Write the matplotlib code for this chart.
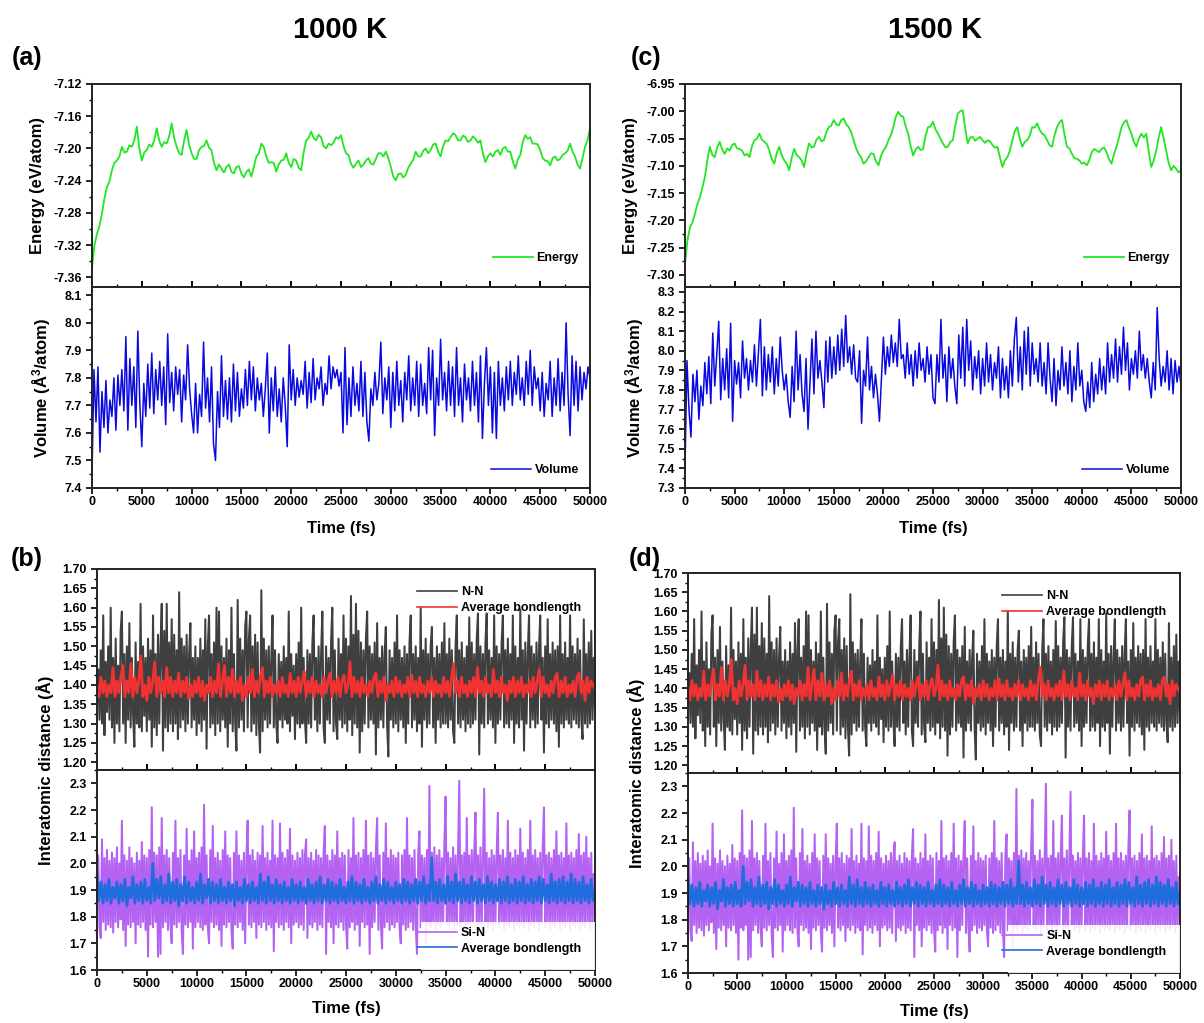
import numpy as np
import matplotlib
matplotlib.use("Agg")
import matplotlib.pyplot as plt
from matplotlib.ticker import MultipleLocator, FormatStrFormatter
from matplotlib.patches import Rectangle

# ---------------- data ----------------
T_END = 50000  # fs

energy_1000 = [
    -7.348, -7.320, -7.306, -7.296, -7.281, -7.262, -7.248, -7.241, -7.227, -7.218,
    -7.215, -7.210, -7.198, -7.205, -7.204, -7.196, -7.198, -7.190, -7.173, -7.200,
    -7.215, -7.205, -7.202, -7.195, -7.198, -7.190, -7.175, -7.190, -7.198, -7.192,
    -7.194, -7.185, -7.169, -7.187, -7.198, -7.206, -7.208, -7.190, -7.177, -7.195,
    -7.206, -7.213, -7.213, -7.202, -7.198, -7.197, -7.190, -7.199, -7.202, -7.218,
    -7.227, -7.220, -7.225, -7.230, -7.223, -7.220, -7.229, -7.231, -7.223, -7.222,
    -7.231, -7.236, -7.229, -7.226, -7.235, -7.223, -7.210, -7.206, -7.194, -7.198,
    -7.210, -7.218, -7.217, -7.218, -7.229, -7.220, -7.215, -7.214, -7.206, -7.218,
    -7.223, -7.213, -7.215, -7.224, -7.227, -7.205, -7.190, -7.187, -7.179, -7.187,
    -7.190, -7.183, -7.186, -7.197, -7.200, -7.194, -7.196, -7.193, -7.186, -7.188,
    -7.1835, -7.197, -7.206, -7.208, -7.219, -7.224, -7.219, -7.215, -7.223, -7.220,
    -7.215, -7.212, -7.219, -7.220, -7.213, -7.206, -7.206, -7.210, -7.204, -7.212,
    -7.223, -7.235, -7.2395, -7.232, -7.231, -7.236, -7.233, -7.224, -7.219, -7.214,
    -7.204, -7.210, -7.210, -7.203, -7.200, -7.206, -7.202, -7.195, -7.194, -7.204,
    -7.210, -7.197, -7.190, -7.191, -7.186, -7.181, -7.1835, -7.190, -7.190, -7.184,
    -7.186, -7.192, -7.190, -7.185, -7.188, -7.193, -7.190, -7.206, -7.217, -7.210,
    -7.206, -7.210, -7.204, -7.202, -7.208, -7.200, -7.198, -7.204, -7.204, -7.216,
    -7.225, -7.214, -7.208, -7.192, -7.1835, -7.188, -7.186, -7.194, -7.194, -7.195,
    -7.202, -7.212, -7.215, -7.216, -7.221, -7.212, -7.210, -7.215, -7.213, -7.208,
    -7.206, -7.203, -7.194, -7.204, -7.210, -7.220, -7.225, -7.212, -7.198, -7.190,
    -7.175]

energy_1500 = [
    -7.280, -7.236, -7.213, -7.204, -7.188, -7.170, -7.158, -7.140, -7.121, -7.090,
    -7.065, -7.080, -7.084, -7.066, -7.056, -7.070, -7.078, -7.068, -7.072, -7.062,
    -7.059, -7.068, -7.069, -7.072, -7.081, -7.078, -7.084, -7.064, -7.053, -7.050,
    -7.041, -7.052, -7.056, -7.060, -7.072, -7.088, -7.096, -7.076, -7.065, -7.080,
    -7.090, -7.096, -7.108, -7.086, -7.069, -7.080, -7.084, -7.090, -7.102, -7.078,
    -7.059, -7.066, -7.065, -7.052, -7.047, -7.055, -7.053, -7.038, -7.029, -7.026,
    -7.016, -7.024, -7.026, -7.016, -7.013, -7.024, -7.029, -7.038, -7.053, -7.068,
    -7.078, -7.084, -7.096, -7.092, -7.084, -7.077, -7.078, -7.092, -7.099, -7.082,
    -7.072, -7.066, -7.053, -7.044, -7.029, -7.010, -7.001, -7.008, -7.010, -7.028,
    -7.041, -7.064, -7.081, -7.070, -7.065, -7.071, -7.069, -7.045, -7.029, -7.028,
    -7.019, -7.033, -7.041, -7.050, -7.059, -7.066, -7.065, -7.056, -7.053, -7.026,
    -7.004, -7.000, -6.998, -7.032, -7.059, -7.048, -7.047, -7.054, -7.050, -7.047,
    -7.053, -7.058, -7.053, -7.055, -7.062, -7.067, -7.065, -7.085, -7.102, -7.090,
    -7.084, -7.072, -7.053, -7.036, -7.029, -7.050, -7.065, -7.056, -7.053, -7.045,
    -7.029, -7.030, -7.022, -7.034, -7.041, -7.044, -7.053, -7.062, -7.065, -7.044,
    -7.029, -7.020, -7.016, -7.042, -7.065, -7.068, -7.078, -7.086, -7.087, -7.090,
    -7.096, -7.094, -7.099, -7.090, -7.075, -7.069, -7.072, -7.075, -7.069, -7.066,
    -7.075, -7.088, -7.096, -7.078, -7.065, -7.048, -7.029, -7.020, -7.016, -7.030,
    -7.041, -7.056, -7.065, -7.050, -7.041, -7.048, -7.041, -7.074, -7.102, -7.090,
    -7.072, -7.048, -7.029, -7.050, -7.072, -7.094, -7.108, -7.100, -7.105, -7.112,
    -7.108]

volume_1000 = [
    7.45, 7.83, 7.64, 7.84, 7.53, 7.75, 7.62, 7.79, 7.60, 7.72,
    7.66, 7.80, 7.61, 7.81, 7.70, 7.83, 7.68, 7.95, 7.61, 7.87,
    7.70, 7.84, 7.62, 7.97, 7.71, 7.55, 7.78, 7.66, 7.85, 7.69,
    7.89, 7.67, 7.83, 7.72, 7.86, 7.70, 7.84, 7.63, 7.96, 7.71,
    7.82, 7.68, 7.84, 7.74, 7.83, 7.64, 7.81, 7.72, 7.92, 7.76,
    7.67, 7.60, 7.78, 7.60, 7.74, 7.66, 7.93, 7.69, 7.80, 7.64,
    7.84, 7.56, 7.50, 7.75, 7.62, 7.88, 7.66, 7.79, 7.65, 7.80,
    7.64, 7.85, 7.68, 7.82, 7.66, 7.76, 7.69, 7.83, 7.70, 7.86,
    7.72, 7.84, 7.68, 7.80, 7.72, 7.78, 7.66, 7.76, 7.89, 7.60,
    7.80, 7.68, 7.84, 7.66, 7.76, 7.64, 7.80, 7.70, 7.55, 7.92,
    7.72, 7.83, 7.70, 7.80, 7.73, 7.79, 7.74, 7.86, 7.69, 7.82,
    7.71, 7.87, 7.72, 7.80, 7.76, 7.84, 7.70, 7.78, 7.74, 7.88,
    7.76, 7.84, 7.80, 7.83, 7.77, 7.82, 7.60, 7.91, 7.63, 7.80,
    7.66, 7.84, 7.70, 7.78, 7.68, 7.86, 7.66, 7.82, 7.64, 7.57,
    7.76, 7.70, 7.82, 7.72, 7.78, 7.93, 7.67, 7.80, 7.72, 7.84,
    7.62, 7.82, 7.68, 7.86, 7.70, 7.79, 7.64, 7.82, 7.72, 7.88,
    7.68, 7.80, 7.70, 7.86, 7.66, 7.85, 7.70, 7.78, 7.67, 7.91,
    7.72, 7.90, 7.59, 7.80, 7.70, 7.94, 7.72, 7.82, 7.68, 7.86,
    7.70, 7.84, 7.66, 7.91, 7.70, 7.80, 7.64, 7.85, 7.72, 7.80,
    7.68, 7.86, 7.70, 7.82, 7.64, 7.88, 7.58, 7.78, 7.91, 7.70,
    7.84, 7.60, 7.82, 7.58, 7.86, 7.70, 7.80, 7.68, 7.84, 7.72,
    7.86, 7.70, 7.82, 7.74, 7.88, 7.72, 7.80, 7.70, 7.86, 7.74,
    7.90, 7.70, 7.84, 7.76, 7.80, 7.68, 7.82, 7.66, 7.78, 7.72,
    7.86, 7.66, 7.80, 7.70, 7.87, 7.68, 7.82, 7.70, 8.00, 7.74,
    7.59, 7.88, 7.70, 7.86, 7.68, 7.84, 7.72, 7.82, 7.76, 7.84,
    7.80]

volume_1500 = [
    7.40, 7.95, 7.70, 7.56, 7.88, 7.74, 7.90, 7.65, 7.82, 7.72,
    7.94, 7.78, 7.97, 7.73, 8.09, 7.82, 7.98, 8.15, 7.75, 7.96,
    7.80, 8.01, 7.76, 8.14, 7.64, 7.95, 7.83, 7.94, 7.76, 8.05,
    7.86, 7.96, 7.80, 7.95, 7.84, 8.03, 7.82, 7.99, 8.16, 7.77,
    8.02, 7.80, 7.98, 7.84, 8.02, 7.78, 7.96, 7.82, 8.07, 7.90,
    7.80, 7.88, 7.74, 7.66, 7.92, 7.74, 8.10, 7.80, 7.98, 7.78,
    7.69, 7.96, 7.60, 7.84, 8.06, 7.78, 8.10, 7.86, 7.95, 7.84,
    7.71, 8.05, 7.84, 8.07, 7.86, 8.02, 7.88, 8.08, 7.90, 8.11,
    7.92, 8.18, 7.94, 8.02, 7.88, 8.03, 7.86, 7.84, 8.00, 7.63,
    7.90, 7.82, 8.07, 7.80, 7.92, 7.76, 7.88, 7.78, 7.64, 7.85,
    8.07, 7.88, 8.02, 7.92, 8.08, 7.94, 8.04, 7.92, 8.16, 7.96,
    7.98, 7.86, 8.04, 7.88, 7.98, 7.82, 8.00, 7.86, 8.04, 7.90,
    7.96, 7.84, 8.02, 7.88, 7.98, 7.76, 7.73, 7.98, 7.84, 8.16,
    7.86, 7.98, 7.74, 8.02, 7.86, 7.96, 7.82, 7.73, 8.08, 7.86,
    8.12, 7.82, 8.16, 7.90, 8.05, 7.80, 7.97, 7.86, 8.00, 7.78,
    7.96, 7.82, 8.04, 7.84, 7.98, 7.80, 7.94, 7.86, 8.02, 7.76,
    7.96, 7.80, 7.92, 7.76, 8.00, 7.82, 8.06, 8.17, 7.84, 8.02,
    7.80, 8.10, 7.88, 8.12, 7.82, 8.04, 7.88, 7.96, 7.84, 8.04,
    7.82, 7.94, 7.78, 8.04, 7.86, 7.74, 7.96, 7.72, 7.90, 7.80,
    8.02, 7.82, 7.94, 7.78, 8.00, 7.74, 7.92, 7.80, 8.04, 7.82,
    7.90, 7.74, 7.69, 7.84, 7.71, 7.94, 7.74, 7.88, 7.78, 7.96,
    7.80, 7.92, 7.78, 8.04, 7.84, 7.98, 7.86, 8.06, 7.84, 8.02,
    7.88, 8.12, 7.90, 8.04, 7.80, 7.96, 7.88, 8.00, 7.86, 8.10,
    7.90, 7.98, 7.86, 7.96, 7.84, 7.76, 7.94, 7.80, 8.22, 7.96,
    7.82, 7.92, 7.84, 8.00, 7.80, 7.96, 7.78, 7.95, 7.84, 7.92,
    7.82]

nn_dist = [
    1.36, 1.44, 1.31, 1.49, 1.30, 1.58, 1.27, 1.46, 1.33, 1.50,
    1.31, 1.60, 1.29, 1.47, 1.25, 1.52, 1.30, 1.45, 1.28, 1.54,
    1.59, 1.30, 1.48, 1.25, 1.50, 1.31, 1.56, 1.29, 1.47, 1.32,
    1.24, 1.51, 1.30, 1.46, 1.29, 1.61, 1.28, 1.50, 1.32, 1.47,
    1.28, 1.52, 1.31, 1.49, 1.24, 1.58, 1.29, 1.48, 1.27, 1.53,
    1.30, 1.50, 1.61, 1.23, 1.54, 1.29, 1.61, 1.28, 1.51, 1.30,
    1.57, 1.28, 1.53, 1.30, 1.49, 1.26, 1.64, 1.29, 1.52, 1.31,
    1.50, 1.28, 1.53, 1.30, 1.48, 1.56, 1.29, 1.47, 1.31, 1.50,
    1.27, 1.47, 1.30, 1.52, 1.28, 1.49, 1.31, 1.57, 1.235, 1.50,
    1.58, 1.29, 1.48, 1.30, 1.51, 1.27, 1.60, 1.30, 1.59, 1.28,
    1.50, 1.31, 1.47, 1.29, 1.52, 1.24, 1.49, 1.30, 1.60, 1.28,
    1.48, 1.30, 1.23, 1.62, 1.29, 1.52, 1.31, 1.49, 1.28, 1.55,
    1.59, 1.29, 1.52, 1.58, 1.28, 1.50, 1.30, 1.53, 1.27, 1.51,
    1.30, 1.225, 1.645, 1.28, 1.52, 1.31, 1.49, 1.29, 1.50, 1.30,
    1.47, 1.58, 1.29, 1.49, 1.30, 1.25, 1.48, 1.31, 1.46, 1.29,
    1.50, 1.31, 1.47, 1.30, 1.59, 1.28, 1.48, 1.32, 1.45, 1.26,
    1.48, 1.30, 1.51, 1.29, 1.60, 1.30, 1.47, 1.31, 1.25, 1.49,
    1.30, 1.48, 1.29, 1.51, 1.58, 1.31, 1.47, 1.28, 1.50, 1.30,
    1.48, 1.59, 1.29, 1.25, 1.50, 1.31, 1.47, 1.30, 1.51, 1.60,
    1.28, 1.49, 1.30, 1.26, 1.52, 1.31, 1.48, 1.29, 1.58, 1.30,
    1.52, 1.28, 1.50, 1.31, 1.63, 1.27, 1.53, 1.30, 1.61, 1.29,
    1.54, 1.225, 1.51, 1.28, 1.49, 1.30, 1.52, 1.59, 1.29, 1.50,
    1.31, 1.48, 1.30, 1.51, 1.22, 1.56, 1.29, 1.47, 1.31, 1.50,
    1.29, 1.48, 1.55, 1.30, 1.215, 1.49, 1.31, 1.47, 1.29, 1.51,
    1.30, 1.58, 1.28, 1.49, 1.31, 1.47, 1.29, 1.50, 1.25, 1.48,
    1.30, 1.51, 1.58, 1.29, 1.48, 1.31, 1.50, 1.28, 1.47, 1.30,
    1.60, 1.24, 1.49, 1.31, 1.52, 1.29, 1.48, 1.30, 1.50, 1.55,
    1.29, 1.47, 1.25, 1.50, 1.31, 1.48, 1.29, 1.51, 1.30, 1.56,
    1.30, 1.48, 1.29, 1.52, 1.31, 1.49, 1.28, 1.25, 1.50, 1.58,
    1.30, 1.49, 1.29, 1.51, 1.31, 1.47, 1.28, 1.50, 1.30, 1.575,
    1.29, 1.51, 1.30, 1.48, 1.31, 1.52, 1.585, 1.22, 1.50, 1.30,
    1.48, 1.29, 1.51, 1.585, 1.30, 1.49, 1.31, 1.47, 1.29, 1.58,
    1.25, 1.50, 1.30, 1.48, 1.31, 1.51, 1.58, 1.29, 1.49, 1.30,
    1.52, 1.29, 1.48, 1.31, 1.58, 1.25, 1.50, 1.30, 1.47, 1.29,
    1.595, 1.31, 1.49, 1.23, 1.51, 1.30, 1.48, 1.58, 1.29, 1.50,
    1.31, 1.48, 1.29, 1.51, 1.30, 1.49, 1.58, 1.31, 1.47, 1.225,
    1.50, 1.30, 1.57, 1.29, 1.48, 1.31, 1.51, 1.30, 1.49, 1.28,
    1.50, 1.24, 1.58, 1.30, 1.48, 1.29, 1.51, 1.31, 1.47, 1.30,
    1.58, 1.29, 1.50, 1.31, 1.48, 1.30, 1.52, 1.29, 1.49, 1.31,
    1.26, 1.57, 1.30, 1.48, 1.29, 1.51, 1.30, 1.54, 1.31, 1.47,
    1.34]

nn_avg = [
    1.40, 1.37, 1.42, 1.38, 1.41, 1.37, 1.40, 1.38, 1.445, 1.37,
    1.41, 1.38, 1.42, 1.45, 1.37, 1.41, 1.38, 1.455, 1.37, 1.42,
    1.38, 1.41, 1.475, 1.37, 1.40, 1.36, 1.42, 1.38, 1.41, 1.46,
    1.37, 1.42, 1.38, 1.41, 1.37, 1.445, 1.38, 1.42, 1.37, 1.41,
    1.38, 1.43, 1.37, 1.41, 1.38, 1.42, 1.365, 1.40, 1.37, 1.41,
    1.38, 1.42, 1.37, 1.41, 1.36, 1.40, 1.38, 1.42, 1.37, 1.41,
    1.38, 1.455, 1.37, 1.41, 1.45, 1.37, 1.42, 1.38, 1.44, 1.37,
    1.41, 1.38, 1.42, 1.36, 1.40, 1.37, 1.42, 1.38, 1.44, 1.37,
    1.41, 1.38, 1.42, 1.445, 1.37, 1.41, 1.38, 1.42, 1.37, 1.40,
    1.38, 1.41, 1.37, 1.42, 1.38, 1.40, 1.37, 1.43, 1.38, 1.41,
    1.37, 1.42, 1.38, 1.41, 1.435, 1.37, 1.41, 1.38, 1.42, 1.37,
    1.41, 1.38, 1.40, 1.37, 1.42, 1.38, 1.41, 1.43, 1.37, 1.41,
    1.38, 1.42, 1.37, 1.41, 1.425, 1.38, 1.40, 1.46, 1.37, 1.42,
    1.38, 1.41, 1.37, 1.42, 1.38, 1.40, 1.37, 1.41, 1.38, 1.42,
    1.43, 1.37, 1.41, 1.38, 1.42, 1.36, 1.40, 1.38, 1.41, 1.37,
    1.42, 1.38, 1.41, 1.37, 1.40, 1.38, 1.42, 1.37, 1.425, 1.38,
    1.41, 1.37, 1.42, 1.38, 1.40, 1.37, 1.41, 1.38, 1.42, 1.37,
    1.41, 1.38, 1.40, 1.37, 1.42, 1.38, 1.41, 1.37, 1.42, 1.455,
    1.38, 1.41, 1.37, 1.42, 1.38, 1.40, 1.37, 1.41, 1.38, 1.42,
    1.37, 1.445, 1.38, 1.41, 1.37, 1.42, 1.38, 1.40, 1.37, 1.44,
    1.38, 1.41, 1.37, 1.42, 1.38, 1.40, 1.36, 1.41, 1.38, 1.42,
    1.37, 1.41, 1.38, 1.42, 1.37, 1.40, 1.38, 1.41, 1.37, 1.42,
    1.38, 1.41, 1.44, 1.37, 1.42, 1.38, 1.40, 1.37, 1.41, 1.38,
    1.42, 1.43, 1.37, 1.41, 1.38, 1.42, 1.37, 1.40, 1.38, 1.41,
    1.37, 1.42, 1.43, 1.38, 1.41, 1.36, 1.42, 1.38, 1.41, 1.40,
    1.39]

sin_dist = [
    1.85, 2.03, 1.76, 1.72, 2.09, 1.78, 2.02, 1.75, 2.05, 1.77,
    2.01, 1.76, 2.04, 1.74, 2.02, 1.78, 2.06, 1.76, 2.00, 1.79,
    2.16, 1.75, 2.03, 1.69, 2.01, 1.77, 2.06, 1.76, 2.02, 1.78,
    2.00, 1.70, 2.04, 1.77, 2.01, 1.76, 2.08, 1.78, 2.03, 1.75,
    2.02, 1.65, 2.05, 1.77, 2.21, 1.76, 2.04, 1.78, 2.03, 1.65,
    2.06, 1.66, 2.17, 1.76, 2.03, 1.78, 2.05, 1.75, 2.02, 1.77,
    1.70, 2.04, 1.77, 2.16, 1.76, 2.02, 1.78, 2.05, 1.75, 1.66,
    2.03, 1.77, 2.13, 1.76, 2.01, 1.78, 2.05, 1.68, 2.12, 1.76,
    2.02, 1.78, 2.04, 1.76, 2.06, 1.75, 2.22, 1.77, 2.03, 1.76,
    1.70, 2.05, 1.78, 2.14, 1.76, 2.02, 1.77, 2.04, 1.75, 2.01,
    1.69, 2.05, 1.77, 2.12, 1.76, 2.03, 1.78, 2.02, 1.75, 1.68,
    2.04, 1.77, 2.12, 1.76, 2.03, 1.78, 2.01, 1.75, 2.04, 1.70,
    2.02, 2.16, 1.77, 2.03, 1.76, 2.05, 1.78, 2.01, 1.72, 2.04,
    1.77, 2.03, 1.76, 2.14, 1.78, 2.02, 1.75, 2.04, 1.77, 2.01,
    1.76, 2.16, 1.67, 2.03, 1.78, 2.02, 1.76, 2.15, 1.77, 2.04,
    1.75, 2.02, 1.78, 2.05, 1.76, 2.13, 1.70, 2.03, 1.77, 2.01,
    1.78, 2.04, 1.76, 2.02, 1.77, 2.05, 1.75, 2.03, 2.09, 1.72,
    2.02, 1.77, 2.04, 1.76, 2.01, 1.78, 2.05, 1.75, 2.03, 1.77,
    2.02, 1.76, 2.04, 2.14, 1.66, 2.03, 1.78, 2.01, 1.76, 2.05,
    1.70, 2.03, 1.77, 2.12, 1.76, 2.02, 1.78, 2.04, 1.75, 2.03,
    1.77, 1.68, 2.05, 1.76, 2.02, 1.78, 2.17, 1.75, 2.03, 1.77,
    2.04, 1.69, 2.02, 1.78, 2.05, 1.76, 2.16, 1.77, 2.03, 1.66,
    2.04, 1.76, 2.02, 1.78, 2.05, 2.17, 1.75, 2.03, 1.77, 1.68,
    2.04, 1.76, 2.15, 1.78, 2.02, 1.75, 2.05, 1.77, 2.03, 1.76,
    2.02, 1.78, 2.04, 1.76, 1.70, 2.03, 1.77, 2.05, 1.75, 2.17,
    1.76, 2.03, 1.78, 2.02, 1.75, 2.05, 1.77, 1.66, 2.04, 2.12,
    1.76, 2.03, 1.78, 2.02, 1.70, 2.05, 1.77, 2.29, 1.76, 2.04,
    1.78, 2.06, 1.75, 2.03, 1.77, 2.05, 1.76, 2.02, 1.78, 2.07,
    2.25, 1.77, 2.04, 1.76, 2.02, 1.78, 2.06, 1.75, 2.03, 1.77,
    2.05, 2.31, 1.76, 2.03, 1.78, 2.04, 1.75, 2.17, 1.77, 2.03,
    1.76, 2.05, 1.78, 2.04, 2.19, 1.75, 2.03, 1.77, 2.06, 1.76,
    2.03, 2.28, 1.78, 2.04, 1.76, 2.02, 1.77, 2.05, 1.75, 2.03,
    1.77, 2.04, 2.19, 1.76, 2.03, 1.78, 2.05, 1.75, 2.02, 1.77,
    2.16, 1.76, 2.04, 1.78, 2.02, 1.75, 2.05, 1.77, 2.03, 1.76,
    2.13, 1.77, 2.04, 1.76, 2.02, 1.78, 2.05, 1.75, 2.16, 1.77,
    2.03, 1.76, 2.05, 1.78, 2.02, 1.75, 2.04, 1.77, 2.06, 2.21,
    1.76, 2.03, 1.78, 2.04, 1.75, 2.02, 1.77, 2.05, 1.76, 2.12,
    1.78, 2.03, 1.75, 2.04, 1.77, 2.02, 1.76, 2.15, 1.78, 2.03,
    1.75, 2.04, 1.77, 2.02, 1.76, 2.05, 1.78, 2.11, 1.75, 2.03,
    1.77, 2.04, 1.76, 2.10, 1.78, 2.02, 1.75, 2.04, 1.77, 1.96,
    1.86]

sin_avg = [
    1.96, 1.86, 1.93, 1.85, 1.92, 1.86, 1.94, 1.85, 1.91, 1.87,
    1.93, 1.85, 1.92, 1.86, 1.94, 1.84, 1.91, 1.87, 1.95, 1.85,
    1.92, 1.86, 1.93, 1.85, 1.94, 1.86, 1.91, 1.85, 2.00, 1.86,
    1.94, 1.87, 1.95, 1.85, 1.92, 1.86, 1.96, 1.85, 1.93, 1.86,
    1.94, 1.84, 1.92, 1.86, 1.95, 1.85, 1.93, 1.86, 1.91, 1.85,
    1.93, 1.86, 1.96, 1.85, 1.92, 1.87, 1.94, 1.85, 1.93, 1.86,
    1.92, 1.85, 1.94, 1.86, 1.91, 1.85, 1.93, 1.86, 1.92, 1.84,
    1.93, 1.86, 1.91, 1.85, 1.94, 1.86, 1.92, 1.85, 1.93, 1.86,
    1.91, 1.85, 1.96, 1.86, 1.93, 1.85, 1.95, 1.86, 1.92, 1.85,
    1.94, 1.86, 1.92, 1.85, 1.93, 1.86, 1.91, 1.85, 1.94, 1.86,
    1.92, 1.85, 1.93, 1.86, 1.91, 1.85, 1.94, 1.86, 1.92, 1.85,
    1.93, 1.86, 1.95, 1.85, 1.92, 1.86, 1.94, 1.85, 1.93, 1.86,
    1.92, 1.85, 1.94, 1.86, 1.91, 1.85, 1.93, 1.86, 1.95, 1.85,
    1.93, 1.86, 1.92, 1.85, 1.94, 1.86, 1.91, 1.85, 1.93, 1.86,
    1.95, 1.85, 1.92, 1.86, 1.94, 1.85, 1.93, 1.86, 1.91, 1.85,
    1.93, 1.86, 1.92, 1.85, 1.94, 1.86, 1.93, 1.85, 1.92, 1.86,
    1.94, 1.85, 1.93, 1.86, 1.95, 1.85, 1.92, 1.86, 2.02, 1.86,
    1.93, 1.85, 1.94, 1.86, 1.92, 1.85, 1.95, 1.86, 1.93, 1.85,
    1.96, 1.86, 1.93, 1.85, 1.94, 1.86, 1.92, 1.85, 1.95, 1.86,
    1.93, 1.85, 1.94, 1.86, 1.92, 1.85, 1.95, 1.86, 1.93, 1.85,
    1.92, 1.86, 1.94, 1.85, 1.93, 1.86, 1.95, 1.85, 1.92, 1.86,
    1.94, 1.85, 1.93, 1.86, 1.95, 1.85, 1.92, 1.86, 1.94, 1.85,
    1.93, 1.86, 1.95, 1.85, 1.94, 1.86, 1.92, 1.85, 1.96, 1.86,
    1.93, 1.85, 1.94, 1.86, 1.95, 1.85, 1.93, 1.86, 1.96, 1.85,
    1.94, 1.86, 1.93, 1.85, 1.95, 1.86, 1.92, 1.85, 1.94, 1.86,
    1.90]

panel_titles = ["1000 K", "1500 K"]
panel_letters = ["(a)", "(b)", "(c)", "(d)"]

# ---------------- style ----------------
plt.rcParams['font.family'] = ['Liberation Sans', 'DejaVu Sans']
plt.rcParams['font.weight'] = 'bold'
plt.rcParams['axes.labelweight'] = 'bold'
plt.rcParams['mathtext.fontset'] = 'custom'
plt.rcParams['mathtext.rm'] = 'Liberation Sans:bold'
plt.rcParams['mathtext.it'] = 'Liberation Sans:bold'
plt.rcParams['mathtext.bf'] = 'Liberation Sans:bold'

W, H = 1204, 1023
fig = plt.figure(figsize=(W / 100, H / 100), dpi=100)


def rect(l, t, r, b):
    return [l / W, 1 - b / H, (r - l) / W, (b - t) / H]


def tgrid(vals):
    return np.linspace(0, T_END, len(vals))


TICK_FS = 9
LABEL_FS = 12


def style_axis(ax, bottom_labels):
    for s in ax.spines.values():
        s.set_linewidth(1.4)
        s.set_color('#222222')
    ax.set_xlim(0, T_END)
    ax.xaxis.set_major_locator(MultipleLocator(5000))
    ax.xaxis.set_minor_locator(MultipleLocator(2500))
    ax.tick_params(axis='y', which='major', direction='out', length=4, width=1.2,
                   labelsize=TICK_FS, right=False)
    ax.tick_params(axis='y', which='minor', direction='out', length=2.5, width=1.0, right=False)
    if bottom_labels:
        ax.tick_params(axis='x', which='major', direction='out', length=4, width=1.2,
                       labelsize=TICK_FS, top=False, pad=2)
        ax.tick_params(axis='x', which='minor', direction='out', length=2.5, width=1.0, top=False)
    else:
        ax.tick_params(axis='x', which='major', direction='inout', length=8, width=1.4,
                       labelbottom=False, top=False)
        ax.tick_params(axis='x', which='minor', direction='inout', length=5, width=1.0, top=False)
    for lab in ax.get_xticklabels() + ax.get_yticklabels():
        lab.set_fontweight('bold')


leg_kw = dict(frameon=False, fontsize=9, handlelength=3.2, handletextpad=0.3,
              borderaxespad=0.5, labelspacing=0.3)

# ---- (a) & (c): energy / volume ----
columns = [
    dict(energy=energy_1000, volume=volume_1000, x0=92, x1=590,
         elim=(-7.372, -7.12), estep=0.04, eminor=0.02,
         vlim=(7.4, 8.13), vstep=0.1),
    dict(energy=energy_1500, volume=volume_1500, x0=685, x1=1181,
         elim=(-7.322, -6.95), estep=0.05, eminor=0.025,
         vlim=(7.3, 8.325), vstep=0.1),
]

for c in columns:
    axe = fig.add_axes(rect(c['x0'], 84, c['x1'], 287))
    axe.plot(tgrid(c['energy']), c['energy'], color='#22e622', lw=1.3, label='Energy')
    axe.set_ylim(*c['elim'])
    axe.yaxis.set_major_locator(MultipleLocator(c['estep']))
    axe.yaxis.set_minor_locator(MultipleLocator(c['eminor']))
    axe.yaxis.set_major_formatter(FormatStrFormatter('%.2f'))
    style_axis(axe, False)
    axe.set_ylabel('Energy (eV/atom)', fontsize=LABEL_FS, fontweight='bold', labelpad=6)
    axe.legend(loc='center right', bbox_to_anchor=(1.0, 0.143), **leg_kw)

    axv = fig.add_axes(rect(c['x0'], 287, c['x1'], 488))
    axv.plot(tgrid(c['volume']), c['volume'], color='#0a0ae0', lw=1.1, label='Volume')
    axv.set_ylim(*c['vlim'])
    axv.yaxis.set_major_locator(MultipleLocator(c['vstep']))
    axv.yaxis.set_minor_locator(MultipleLocator(c['vstep'] / 2))
    axv.yaxis.set_major_formatter(FormatStrFormatter('%.1f'))
    style_axis(axv, True)
    axv.set_ylabel('Volume (Å$^{3}$/atom)', fontsize=LABEL_FS, fontweight='bold', labelpad=8)
    axv.set_xlabel('Time (fs)', fontsize=LABEL_FS, fontweight='bold', labelpad=9)
    axv.legend(loc='center right', bbox_to_anchor=(1.0, 0.09), **leg_kw)
    fig.align_ylabels([axe, axv])

# ---- (b) & (d): interatomic distance ----
bond_cols = [dict(x0=97, x1=595, top=569, mid=770, bot=970, ylab_x=45),
             dict(x0=688, x1=1180, top=573, mid=773, bot=973, ylab_x=636)]

for c in bond_cols:
    axn = fig.add_axes(rect(c['x0'], c['top'], c['x1'], c['mid']))
    axn.plot(tgrid(nn_dist), nn_dist, color='#3f3f3f', lw=1.45, label='N-N')
    axn.plot(tgrid(nn_avg), nn_avg, color='#f03232', lw=2.0, label='Average bondlength')
    axn.set_ylim(1.18, 1.70)
    axn.yaxis.set_major_locator(MultipleLocator(0.05))
    axn.yaxis.set_minor_locator(MultipleLocator(0.025))
    axn.yaxis.set_major_formatter(FormatStrFormatter('%.2f'))
    style_axis(axn, False)
    lgn = axn.legend(loc='upper right', bbox_to_anchor=(0.995, 0.97), **leg_kw)
    for ln in lgn.get_lines():
        ln.set_linewidth(1.2)

    axs = fig.add_axes(rect(c['x0'], c['mid'], c['x1'], c['bot']))
    axs.plot(tgrid(sin_dist), sin_dist, color='#b462f2', lw=1.45, label='Si-N')
    axs.plot(tgrid(sin_avg), sin_avg, color='#1f6ddc', lw=2.0, label='Average bondlength')
    axs.set_ylim(1.6, 2.35)
    axs.yaxis.set_major_locator(MultipleLocator(0.1))
    axs.yaxis.set_minor_locator(MultipleLocator(0.05))
    axs.yaxis.set_major_formatter(FormatStrFormatter('%.1f'))
    style_axis(axs, True)
    axs.set_xlabel('Time (fs)', fontsize=LABEL_FS, fontweight='bold', labelpad=8)
    axs.add_patch(Rectangle((0.65, 0.0), 0.35, 0.24, transform=axs.transAxes,
                            facecolor='white', edgecolor='none', alpha=0.88, zorder=3))
    lg = axs.legend(loc='lower right', bbox_to_anchor=(0.995, 0.02), **leg_kw)
    for ln in lg.get_lines():
        ln.set_linewidth(1.2)
    lg.set_zorder(4)

    fig.text(c['ylab_x'] / W, 1 - c['mid'] / H, 'Interatomic distance (Å)',
             rotation=90, ha='center', va='center', fontsize=LABEL_FS, fontweight='bold')

# ---- titles and panel letters ----
fig.text(340 / W, 1 - 30 / H, panel_titles[0], ha='center', va='center',
         fontsize=21, fontweight='bold')
fig.text(935 / W, 1 - 30 / H, panel_titles[1], ha='center', va='center',
         fontsize=21, fontweight='bold')
for lab, (px, py) in zip(panel_letters, [(27, 58), (27, 559), (646, 58), (645, 559)]):
    fig.text(px / W, 1 - py / H, lab, ha='center', va='center', fontsize=18, fontweight='bold')

fig.savefig('out.png', dpi=100, facecolor='white')
